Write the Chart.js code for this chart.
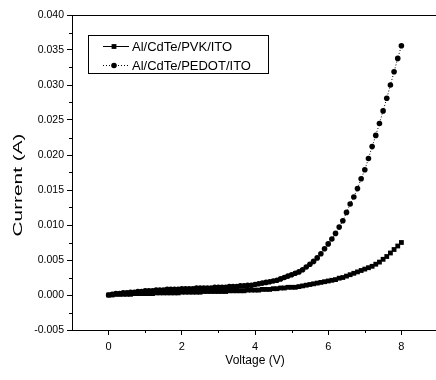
<!DOCTYPE html>
<html>
<head>
<meta charset="utf-8">
<script src="https://cdn.jsdelivr.net/npm/chart.js@4.4.1/dist/chart.umd.min.js"></script>
<style>
  html, body { margin: 0; padding: 0; background: #fff; overflow: hidden; }
  #wrap { position: absolute; left: 0; top: 0; width: 442px; height: 380px; }
</style>
</head>
<body>
<div id="wrap"><canvas id="ivChart"></canvas></div>
<script>
// values (V, A)
const voltage = [
  0.0, 0.1, 0.2, 0.3, 0.4, 0.5, 0.6, 0.7, 0.8, 0.9,
  1.0, 1.1, 1.2, 1.3, 1.4, 1.5, 1.6, 1.7, 1.8, 1.9,
  2.0, 2.1, 2.2, 2.3, 2.4, 2.5, 2.6, 2.7, 2.8, 2.9,
  3.0, 3.1, 3.2, 3.3, 3.4, 3.5, 3.6, 3.7, 3.8, 3.9,
  4.0, 4.1, 4.2, 4.3, 4.4, 4.5, 4.6, 4.7, 4.8, 4.9,
  5.0, 5.1, 5.2, 5.3, 5.4, 5.5, 5.6, 5.7, 5.8, 5.9,
  6.0, 6.1, 6.2, 6.3, 6.4, 6.5, 6.6, 6.7, 6.8, 6.9,
  7.0, 7.1, 7.2, 7.3, 7.4, 7.5, 7.6, 7.7, 7.8, 7.9,
  8.0
];
const pvkCurrent = [
  0.0000, 0.0000, 0.0001, 0.0001, 0.0001, 0.0001, 0.0001, 0.0002, 0.0002, 0.0002,
  0.0002, 0.0002, 0.0002, 0.0003, 0.0003, 0.0003, 0.0003, 0.0003, 0.0003, 0.0003,
  0.0004, 0.0004, 0.0004, 0.0004, 0.0004, 0.0004, 0.0005, 0.0005, 0.0005, 0.0005,
  0.0005, 0.0005, 0.0005, 0.0006, 0.0006, 0.0006, 0.0006, 0.0006, 0.0007, 0.0007,
  0.0007, 0.0007, 0.0008, 0.0008, 0.0008, 0.0009, 0.0009, 0.0010, 0.0010, 0.0011,
  0.0011, 0.0011, 0.0012, 0.0013, 0.0014, 0.0015, 0.0016, 0.0017, 0.0018, 0.0019,
  0.0020, 0.0021, 0.0022, 0.0024, 0.0025, 0.0027, 0.0029, 0.0031, 0.0033, 0.0035,
  0.0037, 0.0039, 0.0041, 0.0044, 0.0047, 0.0051, 0.0055, 0.0060, 0.0065, 0.0070,
  0.0075
];
const pedotCurrent = [
  0.0000, 0.0001, 0.0002, 0.0002, 0.0003, 0.0003, 0.0004, 0.0004, 0.0005, 0.0005,
  0.0006, 0.0006, 0.0006, 0.0007, 0.0007, 0.0007, 0.0008, 0.0008, 0.0008, 0.0008,
  0.0009, 0.0009, 0.0009, 0.0009, 0.0010, 0.0010, 0.0010, 0.0010, 0.0010, 0.0011,
  0.0011, 0.0011, 0.0011, 0.0012, 0.0012, 0.0012, 0.0013, 0.0013, 0.0014, 0.0014,
  0.0015, 0.0016, 0.0017, 0.0018, 0.0019, 0.0020, 0.0021, 0.0023, 0.0025, 0.0027,
  0.0029, 0.0031, 0.0033, 0.0036, 0.0040, 0.0044, 0.0048, 0.0053, 0.0059, 0.0066,
  0.0073, 0.0080, 0.0088, 0.0097, 0.0106, 0.0118, 0.0130, 0.0140, 0.0152, 0.0166,
  0.0179, 0.0195, 0.0212, 0.0228, 0.0245, 0.0263, 0.0281, 0.0300, 0.0319, 0.0338,
  0.0356
];
const seriesNames = ['Al/CdTe/PVK/ITO', 'Al/CdTe/PEDOT/ITO'];
const xTicks = [0, 2, 4, 6, 8];
const xMinorTicks = [1, 3, 5, 7];
const yTicks = [-0.005, 0.000, 0.005, 0.010, 0.015, 0.020, 0.025, 0.030, 0.035, 0.040];
const yMinorTicks = [-0.0025, 0.0025, 0.0075, 0.0125, 0.0175, 0.0225, 0.0275, 0.0325, 0.0375];
const yTitle = 'Current (A)';

const FONT = 'Liberation Sans, Arial, sans-serif';

function toPoints(ys) {
  return voltage.map((v, i) => ({ x: v, y: ys[i] }));
}

// frame, minor ticks, stretched y title and the boxed legend
const framePlugin = {
  id: 'framePlugin',
  afterDraw(chart) {
    const ctx = chart.ctx;
    const a = chart.chartArea;
    const xs = chart.scales.x, ys = chart.scales.y;
    ctx.save();
    ctx.strokeStyle = '#000';
    ctx.lineWidth = 1;
    ctx.strokeRect(Math.round(a.left) + 0.5, Math.round(a.top) + 0.5,
      Math.round(a.right - a.left), Math.round(a.bottom - a.top));
    ctx.beginPath();
    xMinorTicks.forEach(v => {
      const px = Math.round(xs.getPixelForValue(v)) + 0.5;
      ctx.moveTo(px, a.bottom); ctx.lineTo(px, a.bottom + 3);
    });
    yMinorTicks.forEach(v => {
      const py = Math.round(ys.getPixelForValue(v)) + 0.5;
      ctx.moveTo(a.left, py); ctx.lineTo(a.left - 3, py);
    });
    ctx.stroke();

    // y title: the scanned figure is stretched vertically
    ctx.save();
    ctx.translate(18, 185);
    ctx.rotate(-Math.PI / 2);
    ctx.scale(1.6, 1);
    ctx.font = '13px ' + FONT;
    ctx.fillStyle = '#000';
    ctx.textAlign = 'center';
    ctx.textBaseline = 'middle';
    ctx.fillText(yTitle, 0, 0);
    ctx.restore();

    // legend
    const bx = 88.5, by = 35.5, bw = 180, bh = 38;
    ctx.strokeRect(bx, by, bw, bh);
    ctx.font = '13px ' + FONT;
    ctx.fillStyle = '#000';
    ctx.textBaseline = 'middle';
    chart.data.datasets.forEach((ds, i) => {
      const cy = 46 + i * 19;
      ctx.save();
      ctx.setLineDash(ds.borderDash || []);
      ctx.beginPath();
      ctx.moveTo(103, cy + 0.5); ctx.lineTo(129, cy + 0.5);
      ctx.stroke();
      ctx.restore();
      Chart.helpers.drawPoint(ctx, {
        pointStyle: ds.pointStyle, radius: ds.pointRadius, borderWidth: 0
      }, 114, cy + 0.5);
      ctx.fillText(ds.label, 132, cy + 1);
    });
    ctx.restore();
  }
};

const ctx = document.getElementById('ivChart').getContext('2d');
const myChart = new Chart(ctx, {
  type: 'line',
  data: {
    datasets: [
      {
        label: seriesNames[0],
        data: toPoints(pvkCurrent),
        borderColor: '#000',
        backgroundColor: '#000',
        borderWidth: 1,
        pointStyle: 'rect',
        pointRadius: 3.4,
        pointBorderWidth: 0,
        pointBackgroundColor: '#000',
        tension: 0
      },
      {
        label: seriesNames[1],
        data: toPoints(pedotCurrent),
        borderColor: '#000',
        backgroundColor: '#000',
        borderWidth: 1,
        borderDash: [1, 2],
        pointStyle: 'circle',
        pointRadius: 2.8,
        pointBorderWidth: 0,
        pointBackgroundColor: '#000',
        tension: 0
      }
    ]
  },
  options: {
    responsive: true,
    maintainAspectRatio: false,
    animation: false,
    layout: { padding: { top: 15, right: 3, left: 0, bottom: 0 } },
    plugins: {
      legend: { display: false },
      tooltip: { enabled: false }
    },
    scales: {
      x: {
        type: 'linear',
        min: -1,
        max: 9,
        afterBuildTicks: s => { s.ticks = xTicks.map(v => ({ value: v })); },
        afterFit: s => { s.height = 50; },
        grid: { drawOnChartArea: false, tickLength: 5, color: '#000', tickColor: '#000' },
        border: { display: true, color: '#000', width: 1 },
        ticks: {
          color: '#000', padding: 5, maxRotation: 0, autoSkip: false,
          font: { family: FONT, size: 11 },
          callback: v => String(v)
        },
        title: {
          display: true, text: 'Voltage (V)', color: '#000',
          font: { family: FONT, size: 12 },
          padding: { top: 0, bottom: 12 }
        }
      },
      y: {
        type: 'linear',
        min: -0.005,
        max: 0.040,
        afterBuildTicks: s => { s.ticks = yTicks.map(v => ({ value: v })); },
        afterFit: s => { s.width = 72; },
        grid: { drawOnChartArea: false, tickLength: 5, color: '#000', tickColor: '#000' },
        border: { display: true, color: '#000', width: 1 },
        ticks: {
          color: '#000', padding: 3, autoSkip: false,
          font: { family: FONT, size: 10.5 },
          callback: v => v.toFixed(3)
        },
        title: { display: false }
      }
    }
  },
  plugins: [framePlugin]
});
</script>
</body>
</html>
